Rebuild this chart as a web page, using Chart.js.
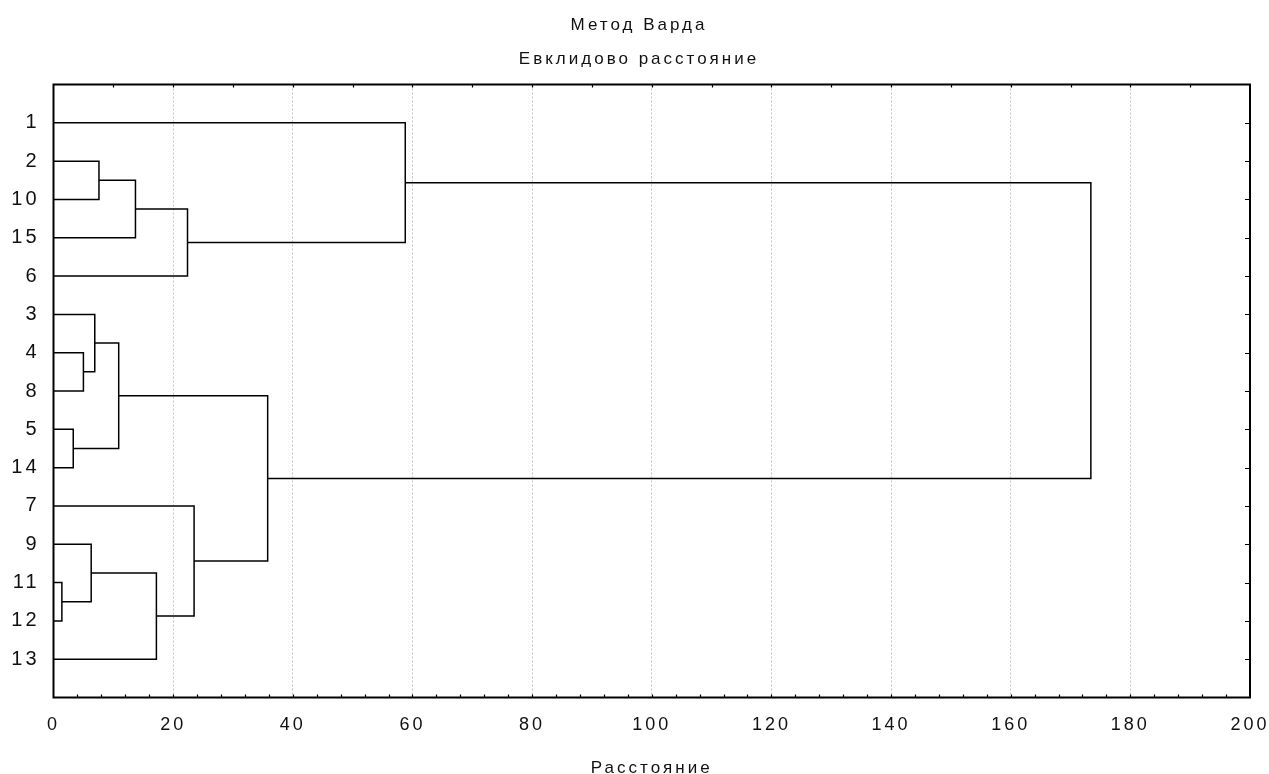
<!DOCTYPE html>
<html>
<head>
<meta charset="utf-8">
<script src="https://cdn.jsdelivr.net/npm/chart.js@4/dist/chart.umd.min.js"></script>
<style>
  html, body { margin: 0; padding: 0; background: #fff; }
  #wrap { width: 1269px; height: 774px; }
</style>
</head>
<body>
<div id="wrap"><canvas id="c" width="1269" height="774"></canvas></div>
<script>
// Leaf order from top to bottom (tick labels of the vertical axis)
const leafLabels = ['1', '2', '10', '15', '6', '3', '4', '8', '5', '14', '7', '9', '11', '12', '13'];
// Agglomeration steps: m1..m14
const mergeLeft   = ['11', '5', '4', '9', '3', '2', 'm5', 'm6', 'm4', 'm8', '7', 'm7', '1', 'm13'];
const mergeRight  = ['12', '14', '8', 'm1', 'm3', '10', 'm2', '15', '13', '6', 'm9', 'm11', 'm10', 'm12'];
const mergeHeight = [1.4, 3.3, 5.0, 6.3, 6.9, 7.6, 10.9, 13.7, 17.2, 22.4, 23.5, 35.8, 58.8, 173.4];
// Axis ticks
const xTickValues = [0, 20, 40, 60, 80, 100, 120, 140, 160, 180, 200];
const titleLines = ['Метод Варда', 'Евклидово расстояние'];
const xTitle = 'Расстояние';

// Build cluster positions (row index and height) and the U-shaped links
const pos = {};
leafLabels.forEach((l, i) => { pos[l] = { y: i + 1, h: 0 }; });
const datasets = [];
mergeHeight.forEach((h, k) => {
  const a = pos[mergeLeft[k]], b = pos[mergeRight[k]];
  datasets.push({
    data: [{ x: a.h, y: a.y }, { x: h, y: a.y }, { x: h, y: b.y }, { x: b.h, y: b.y }],
    showLine: true, borderColor: '#000', borderWidth: 1.5, pointRadius: 0,
    pointHoverRadius: 0, fill: false, tension: 0
  });
  pos['m' + (k + 1)] = { y: (a.y + b.y) / 2, h: h };
});

const spacing = {
  id: 'spacing',
  beforeUpdate(c) { c.ctx.letterSpacing = '3px'; },
  beforeLayout(c) { c.ctx.letterSpacing = '3px'; },
  afterLayout(c) { if (c.titleBlock) { c.titleBlock.left = 28; } },
  beforeDraw(c) { c.ctx.letterSpacing = '3px'; }
};

const frame = {
  id: 'frame',
  afterDraw(c) {
    const ctx = c.ctx, a = c.chartArea, xs = c.scales.x, ys = c.scales.y;
    ctx.save();
    ctx.strokeStyle = '#000';
    ctx.lineWidth = 1.2;
    ctx.beginPath();
    for (let i = 1; i <= leafLabels.length; i++) {
      const y = Math.round(ys.getPixelForValue(i)) + 0.5;
      ctx.moveTo(a.right - 5, y); ctx.lineTo(a.right, y);
    }
    for (let v = 10; v < 200; v += 10) {
      const x = Math.round(xs.getPixelForValue(v)) + 0.5;
      ctx.moveTo(x, a.top); ctx.lineTo(x, a.top + 3);
    }
    for (let v = 4; v < 200; v += 4) {
      const x = Math.round(xs.getPixelForValue(v)) + 0.5;
      ctx.moveTo(x, a.bottom); ctx.lineTo(x, a.bottom - 3);
    }
    ctx.stroke();
    ctx.lineWidth = 2;
    ctx.strokeRect(a.left, a.top, a.right - a.left, a.bottom - a.top);
    ctx.restore();
  }
};

new Chart(document.getElementById('c'), {
  type: 'scatter',
  data: { datasets },
  plugins: [spacing, frame],
  options: {
    responsive: false,
    animation: false,
    events: [],
    layout: { padding: { left: 0, right: 19, top: 0, bottom: 0 } },
    plugins: {
      legend: { display: false },
      tooltip: { enabled: false },
      title: {
        display: true,
        text: titleLines,
        color: '#111',
        font: { family: 'Liberation Sans, Arial, sans-serif', size: 17, weight: 'normal', lineHeight: '34px' },
        padding: { top: 8, bottom: 8.5 }
      }
    },
    scales: {
      x: {
        type: 'linear', position: 'bottom', min: 0, max: 200,
        afterBuildTicks(s) { s.ticks = xTickValues.map(v => ({ value: v })); },
        afterFit(s) { s.height = 76.5; s.paddingLeft = 0; s.paddingRight = 0; },
        ticks: {
          color: '#111', padding: 17, maxRotation: 0, autoSkip: false,
          font: { family: 'Liberation Sans, Arial, sans-serif', size: 18 }
        },
        grid: { color: '#c4c4c4', lineWidth: 1, drawTicks: false },
        border: { display: false, dash: [2, 2] },
        title: {
          display: true, text: xTitle, color: '#111',
          font: { family: 'Liberation Sans, Arial, sans-serif', size: 17, lineHeight: '12px' },
          padding: { top: 0, bottom: 0 }
        }
      },
      y: {
        type: 'linear', position: 'left', min: 0, max: 16, reverse: true,
        afterBuildTicks(s) { s.ticks = leafLabels.map((_, i) => ({ value: i + 1 })); },
        afterFit(s) { s.width = 53.5; s.paddingTop = 0; s.paddingBottom = 0; },
        ticks: {
          color: '#111', padding: 14, autoSkip: false,
          font: { family: 'Liberation Sans, Arial, sans-serif', size: 20 },
          callback: (v) => leafLabels[v - 1]
        },
        grid: { display: false, drawTicks: false },
        border: { display: false }
      }
    }
  }
});
</script>
</body>
</html>
